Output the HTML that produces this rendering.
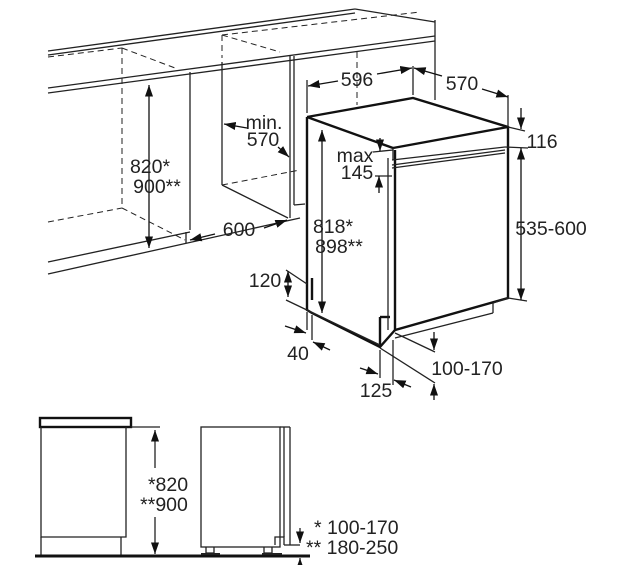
<!DOCTYPE html>
<html><head><meta charset="utf-8"><style>
html,body{margin:0;padding:0;background:#fff;}
svg{display:block;}
text{font-family:"Liberation Sans",Arial,sans-serif;font-size:19.5px;fill:#222;}
</style></head><body>
<svg width="641" height="565" viewBox="0 0 641 565" xmlns="http://www.w3.org/2000/svg">
<defs>
<marker id="a" viewBox="0 0 10 10" refX="10" refY="5" markerWidth="9" markerHeight="9" orient="auto-start-reverse"><path d="M0,1.5 L10,5 L0,8.5 z" fill="#111"/></marker>
</defs>
<g stroke="#222" fill="none" stroke-width="1.3">
<line x1="48" y1="51" x2="355" y2="9"/>
<line x1="48" y1="55" x2="355" y2="13"/>
<line x1="48" y1="88" x2="435" y2="36"/>
<line x1="48" y1="93" x2="435" y2="41"/>
<line x1="435" y1="20" x2="435" y2="100"/>
<line x1="355" y1="9" x2="435" y2="22"/>
<g stroke-dasharray="6,4" stroke-width="1">
<line x1="48" y1="57" x2="122" y2="48"/>
<line x1="122" y1="48" x2="175" y2="68"/>
<line x1="122" y1="48" x2="122" y2="208"/>
<line x1="48" y1="222" x2="122" y2="208"/>
<line x1="122" y1="208" x2="185" y2="240"/>
<line x1="222" y1="35" x2="222" y2="58"/>
<line x1="222" y1="35" x2="280" y2="52"/>
<line x1="222" y1="185" x2="300" y2="170"/>
<line x1="222" y1="35" x2="420" y2="12"/>
<line x1="357" y1="52" x2="357" y2="105"/>
</g>
<line x1="190" y1="72" x2="190" y2="230"/>
<line x1="48" y1="262" x2="190" y2="232"/>
<line x1="48" y1="274" x2="300" y2="218"/>
<line x1="186" y1="232" x2="186" y2="243"/>
<line x1="222" y1="62" x2="222" y2="185"/>
<line x1="222" y1="185" x2="288" y2="218"/>
<line x1="290" y1="56" x2="290" y2="218"/>
<line x1="294" y1="56" x2="294" y2="205"/>
<line x1="294" y1="205" x2="305" y2="204"/>
<g stroke-width="2.4" stroke="#111">
<path d="M307,117 L413,98 L508,127 L508,250"/>
<path d="M307,117 L307,310 L312,313 L380,347 L395,330"/>
<path d="M307,117 L393,148"/>
<path d="M393,148 L508,127"/>
<path d="M395,150 L395,330 L508,298 L508,250"/>
<path d="M380,317 L380,347"/>
<path d="M380,317 L390,317"/>
<path d="M312,278 L312,300"/>
</g>
<line x1="393" y1="148" x2="393" y2="160"/>
<line x1="388" y1="158" x2="388" y2="330"/>
<line x1="392" y1="160" x2="505" y2="147"/>
<line x1="392" y1="165" x2="505" y2="150"/>
<line x1="392" y1="168" x2="505" y2="153"/>
<line x1="508" y1="298" x2="493" y2="303"/>
<line x1="493" y1="303" x2="493" y2="313"/>
<line x1="493" y1="313" x2="395" y2="338"/>
<line x1="307" y1="113" x2="307" y2="80"/>
<line x1="413" y1="95" x2="413" y2="66"/>
<line x1="508" y1="127" x2="508" y2="95"/>
<line x1="508" y1="127" x2="525" y2="131"/>
<line x1="505" y1="147" x2="528" y2="148"/>
<line x1="508" y1="298" x2="527" y2="301"/>
<line x1="373" y1="152" x2="393" y2="150"/>
<line x1="375" y1="176" x2="392" y2="176"/>
<line x1="286" y1="270" x2="307" y2="284"/>
<line x1="286" y1="300" x2="380" y2="345"/>
<line x1="307" y1="312" x2="307" y2="330"/>
<line x1="312" y1="315" x2="312" y2="340"/>
<line x1="380" y1="350" x2="380" y2="378"/>
<line x1="393" y1="340" x2="393" y2="385"/>
<line x1="380" y1="348" x2="435" y2="383"/>
<line x1="395" y1="333" x2="435" y2="352"/>
<g stroke="#111" stroke-width="1.3">
<line x1="149" y1="85" x2="149" y2="248" marker-start="url(#a)" marker-end="url(#a)"/>
<line x1="247" y1="128" x2="224" y2="124" marker-end="url(#a)"/>
<line x1="278" y1="147" x2="289" y2="157" marker-end="url(#a)"/>
<line x1="264" y1="228" x2="287" y2="220" marker-end="url(#a)"/>
<line x1="215" y1="234" x2="190" y2="240" marker-end="url(#a)"/>
<line x1="308" y1="86" x2="338" y2="81" marker-start="url(#a)"/>
<line x1="377" y1="74" x2="412" y2="68" marker-end="url(#a)"/>
<line x1="414" y1="68" x2="442" y2="76" marker-start="url(#a)"/>
<line x1="482" y1="89" x2="508" y2="97" marker-end="url(#a)"/>
<line x1="521" y1="108" x2="521" y2="129" marker-end="url(#a)"/>
<line x1="380" y1="138" x2="380" y2="151" marker-end="url(#a)"/>
<line x1="379" y1="193" x2="379" y2="176" marker-end="url(#a)"/>
<line x1="322" y1="130" x2="322" y2="313" marker-start="url(#a)" marker-end="url(#a)"/>
<line x1="521" y1="148" x2="521" y2="300" marker-start="url(#a)" marker-end="url(#a)"/>
<line x1="288" y1="271" x2="288" y2="297" marker-start="url(#a)" marker-end="url(#a)"/>
<line x1="285" y1="326" x2="306" y2="333" marker-end="url(#a)"/>
<line x1="330" y1="350" x2="313" y2="342" marker-end="url(#a)"/>
<line x1="434" y1="332" x2="434" y2="350" marker-end="url(#a)"/>
<line x1="434" y1="400" x2="434" y2="384" marker-end="url(#a)"/>
<line x1="360" y1="368" x2="378" y2="374" marker-end="url(#a)"/>
<line x1="411" y1="387" x2="394" y2="380" marker-end="url(#a)"/>
</g>
<rect x="40" y="418" width="91" height="9" stroke-width="2.4" stroke="#111"/>
<path d="M41,427 V537 H126 V427" />
<line x1="41" y1="537" x2="41" y2="556"/>
<line x1="121" y1="537" x2="121" y2="556"/>
<line x1="35" y1="556" x2="310" y2="556" stroke-width="3" stroke="#111"/>
<line x1="131" y1="427" x2="160" y2="427"/>
<line x1="155" y1="430" x2="155" y2="468" marker-start="url(#a)"/>
<line x1="155" y1="517" x2="155" y2="554" marker-end="url(#a)"/>
<rect x="201" y="427" width="79" height="120"/>
<line x1="284" y1="427" x2="284" y2="537"/>
<line x1="290" y1="427" x2="290" y2="545"/>
<line x1="280" y1="427" x2="290" y2="427"/>
<path d="M275,545 V537 H284 V545"/>
<line x1="284" y1="545" x2="300" y2="545"/>
<path d="M206,547 V553 H214 V547"/>
<path d="M264,547 V553 H272 V547"/>
<line x1="201" y1="554" x2="220" y2="554" stroke-width="2"/>
<line x1="262" y1="554" x2="282" y2="554" stroke-width="2"/>
<line x1="300" y1="528" x2="300" y2="543" marker-end="url(#a)"/>
<line x1="300" y1="570" x2="300" y2="558" marker-end="url(#a)"/>
</g>
<text x="150" y="173" text-anchor="middle">820*</text>
<text x="157" y="193" text-anchor="middle">900**</text>
<text x="264" y="129" text-anchor="middle">min.</text>
<text x="263" y="146" text-anchor="middle">570</text>
<text x="239" y="236" text-anchor="middle">600</text>
<text x="357" y="86" text-anchor="middle">596</text>
<text x="462" y="90" text-anchor="middle">570</text>
<text x="542" y="148" text-anchor="middle">116</text>
<text x="355" y="162" text-anchor="middle">max</text>
<text x="357" y="179" text-anchor="middle">145</text>
<text x="551" y="235" text-anchor="middle">535-600</text>
<text x="333" y="233" text-anchor="middle">818*</text>
<text x="339" y="253" text-anchor="middle">898**</text>
<text x="265" y="287" text-anchor="middle">120</text>
<text x="298" y="360" text-anchor="middle">40</text>
<text x="467" y="375" text-anchor="middle">100-170</text>
<text x="376" y="397" text-anchor="middle">125</text>
<text x="168" y="491" text-anchor="middle">*820</text>
<text x="164" y="511" text-anchor="middle">**900</text>
<text x="314" y="534">* 100-170</text>
<text x="306" y="554">** 180-250</text>
</svg>
</body></html>
